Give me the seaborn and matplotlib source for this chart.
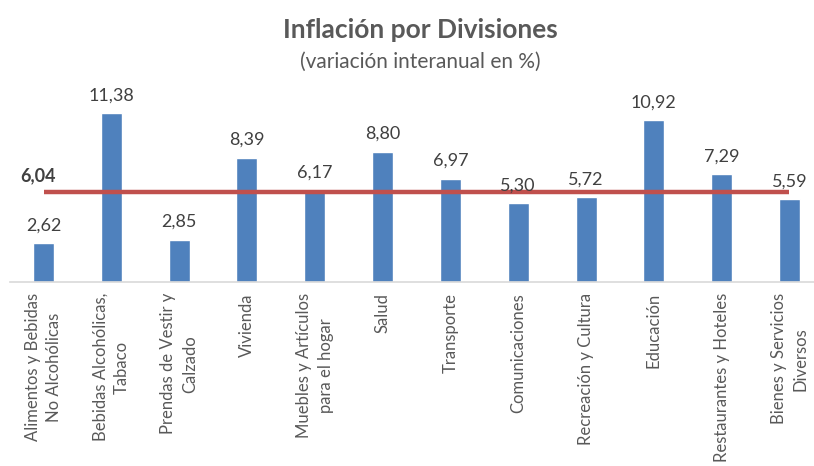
import numpy as np
import matplotlib
matplotlib.use("Agg")
import matplotlib.pyplot as plt
import seaborn as sns

# Datos: inflación por divisiones (variación interanual en %)
divisiones = [
    "Alimentos y Bebidas\nNo Alcohólicas",
    "Bebidas Alcohólicas,\nTabaco",
    "Prendas de Vestir y\nCalzado",
    "Vivienda",
    "Muebles y Artículos\npara el hogar",
    "Salud",
    "Transporte",
    "Comunicaciones",
    "Recreación y Cultura",
    "Educación",
    "Restaurantes y Hoteles",
    "Bienes y Servicios\nDiversos",
]
variacion = [2.62, 11.38, 2.85, 8.39, 6.17, 8.80, 6.97, 5.30, 5.72, 10.92, 7.29, 5.59]
promedio = 6.04

azul = "#4f81bd"
rojo = "#c0504d"
gris = "#595959"

sns.set_theme(style="white")
plt.rcParams["font.family"] = ["Lato", "DejaVu Sans"]

fig = plt.figure(figsize=(8.14, 4.66), dpi=100)
ax = fig.add_axes([9.6 / 814, 184 / 466, 813.8 / 814, 177.9 / 466])

sns.barplot(x=divisiones, y=variacion, color=azul, width=0.31, saturation=1, ax=ax)

# etiquetas de valores con coma decimal
etiquetas = [f"{v:.2f}".replace(".", ",") for v in variacion]
ax.bar_label(ax.containers[0], labels=etiquetas, padding=7, fontsize=13, color="#404040")

# línea del promedio general
pos = np.arange(len(divisiones))
ax.plot(pos, np.full(len(divisiones), promedio), color=rojo, lw=3.2, solid_capstyle="butt")
ax.annotate(f"{promedio:.2f}".replace(".", ","), xy=(0, promedio), xytext=(-4, 6),
            textcoords="offset points", ha="center", va="bottom",
            fontsize=13, fontweight="bold", color="#404040")

ax.set_xlim(-0.5, len(divisiones) - 0.5)
ax.set_ylim(0, 12)
ax.set_yticks([])
ax.set_ylabel("")
for s in ["top", "right", "left"]:
    ax.spines[s].set_visible(False)
ax.spines["bottom"].set_color("#d9d9d9")
ax.spines["bottom"].set_linewidth(1.2)
ax.tick_params(axis="x", length=0, pad=8)
for lab in ax.get_xticklabels():
    lab.set_rotation(90)
    lab.set_fontsize(12)
    lab.set_color(gris)
    lab.set_ha("center")
    lab.set_va("top")
    lab.set_multialignment("center")
    lab.set_linespacing(1.45)

fig.text(420 / 814, 1 - 30 / 466, "Inflación por Divisiones", ha="center", va="center",
         fontsize=19, fontweight="bold", color=gris)
fig.text(420 / 814, 1 - 62 / 466, "(variación interanual en %)", ha="center", va="center",
         fontsize=15, color=gris)

fig.savefig("out.png", dpi=100)
